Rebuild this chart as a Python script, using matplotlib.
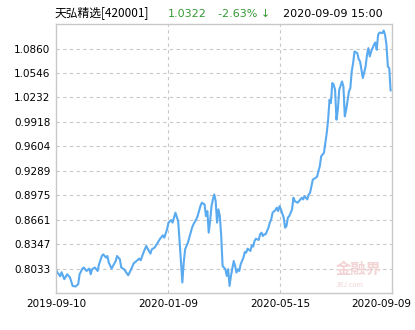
import matplotlib
matplotlib.use("Agg")
import matplotlib.pyplot as plt
from matplotlib.transforms import ScaledTranslation

plt.rcParams['font.family'] = ['Noto Sans CJK SC', 'DejaVu Sans']

# trading-day index and net value
days = [0, 1, 3, 4, 6, 8, 10, 12, 14, 16, 17, 19, 20, 22, 24, 25, 26, 28, 30, 31,
        33, 34, 36, 37, 38, 40, 41, 43, 44, 46, 47, 49, 52, 53, 55, 56, 58, 60, 61, 63,
        65, 66, 68, 69, 71, 73, 74, 75, 77, 78, 79, 80, 81, 83, 84, 85, 86, 87, 88, 89,
        90, 91, 92, 93, 95, 97, 98, 99, 101, 102, 103, 104, 105, 107, 108, 109, 110, 111, 112, 113,
        114, 115, 116, 117, 118, 119, 120, 122, 123, 124, 125, 126, 128, 129, 130, 131, 132, 133, 135, 136,
        137, 138, 140, 141, 142, 143, 144, 146, 147, 148, 149, 150, 151, 153, 154, 155, 156, 158, 159, 160,
        161, 162, 164, 165, 166, 167, 168, 170, 171, 172, 174, 175, 177, 178, 179, 181, 182, 183, 184, 185,
        187, 188, 189, 190, 191, 193, 194, 195, 196, 197, 198, 199, 200, 201, 202, 203, 204, 206, 207, 208,
        209, 211, 212, 213, 214, 215, 217, 218, 219, 220, 221, 223, 224, 225, 226, 227, 229, 230, 231, 232,
        233, 235, 236, 237, 238, 239, 240, 241]
nav = [0.8024, 0.7982, 0.7934, 0.7986, 0.7896, 0.7960, 0.7922, 0.7810, 0.7802, 0.7832,
       0.7960, 0.8033, 0.8046, 0.8002, 0.8033, 0.7960, 0.8024, 0.8046, 0.8002, 0.8088,
       0.8194, 0.8216, 0.8174, 0.8194, 0.8110, 0.8033, 0.8066, 0.8130, 0.8194, 0.8152,
       0.8046, 0.8024, 0.7947, 0.7982, 0.8059, 0.8101, 0.8130, 0.8161, 0.8139, 0.8238,
       0.8323, 0.8289, 0.8225, 0.8280, 0.8302, 0.8357, 0.8387, 0.8417, 0.8460, 0.8430,
       0.8485, 0.8537, 0.8623, 0.8656, 0.8623, 0.8687, 0.8751, 0.8699, 0.8643, 0.8387,
       0.8110, 0.7854, 0.8110, 0.8280, 0.8366, 0.8494, 0.8558, 0.8601, 0.8665, 0.8707,
       0.8771, 0.8835, 0.8879, 0.8857, 0.8707, 0.8771, 0.8494, 0.8643, 0.8835, 0.8921,
       0.8985, 0.8899, 0.8623, 0.8793, 0.8707, 0.8451, 0.8066, 0.8024, 0.7938, 0.8024,
       0.7810, 0.7938, 0.8130, 0.8066, 0.7982, 0.8024, 0.8002, 0.8088, 0.8174, 0.8246,
       0.8238, 0.8289, 0.8259, 0.8332, 0.8315, 0.8387, 0.8417, 0.8400, 0.8473, 0.8494,
       0.8451, 0.8473, 0.8473, 0.8558, 0.8623, 0.8665, 0.8751, 0.8784, 0.8815, 0.8771,
       0.8835, 0.8793, 0.8687, 0.8558, 0.8579, 0.8687, 0.8707, 0.8793, 0.8943, 0.8899,
       0.8879, 0.8899, 0.8943, 0.8921, 0.8963, 0.8921, 0.8985, 0.9007, 0.9092, 0.9177,
       0.9199, 0.9212, 0.9284, 0.9348, 0.9476, 0.9520, 0.9648, 0.9776, 0.9946, 1.0203,
       1.0160, 1.0417, 1.0395, 1.0331, 0.9946, 1.0075, 1.0331, 1.0437, 1.0373, 0.9989,
       1.0075, 1.0309, 1.0353, 1.0565, 1.0673, 1.0822, 1.0801, 1.0724, 1.0694, 1.0587,
       1.0481, 1.0630, 1.0779, 1.0865, 1.0758, 1.0822, 1.0908, 1.0937, 1.0844, 1.1036,
       1.1065, 1.1058, 1.1091, 1.1036, 1.0908, 1.0630, 1.0609, 1.0322]

yticks = [0.8033, 0.8347, 0.8661, 0.8975, 0.9289, 0.9604, 0.9918, 1.0232, 1.0546, 1.0860]
xlabels = ['2019-09-10', '2020-01-09', '2020-05-15', '2020-09-09']
n_days = 242

fig = plt.figure(figsize=(4.15, 3.3), dpi=100)
ax = fig.add_axes([56 / 415, 37 / 330, 336 / 415, 269 / 330])

ax.plot(days, nav, color='#5aaaf0', lw=1.5, solid_joinstyle='round')

ax.set_xlim(0, n_days)
ax.set_ylim(0.7719, 1.1175)
ax.set_yticks(yticks)
ax.set_yticklabels(['%.4f' % v for v in yticks], family='DejaVu Sans', fontsize=7.5)
xt = [i * n_days / 3 for i in range(4)]
ax.set_xticks(xt)
ax.set_xticklabels(xlabels, family='DejaVu Sans', fontsize=7.5)
ax.tick_params(length=0, pad=4)
# last date label sits a bit to the left so it stays inside the image
last = ax.get_xticklabels()[-1]
last.set_transform(last.get_transform() + ScaledTranslation(-11 / 100, 0, fig.dpi_scale_trans))

for y in yticks:
    ax.axhline(y, color='#c8c8c8', lw=0.8, ls=(0, (3, 3)), zorder=0)
for x in xt[1:3]:
    ax.axvline(x, color='#c8c8c8', lw=0.8, ls=(0, (3, 3)), zorder=0)

for s in ax.spines.values():
    s.set_color('#c8c8c8')
    s.set_linewidth(1)

# watermark
ax.text(0.9, 0.088, '金融界', transform=ax.transAxes, ha='center', va='center',
        fontsize=11, color='#f2d4d4', fontweight='bold', zorder=0)
ax.text(0.875, 0.028, 'JRJ.com', transform=ax.transAxes, ha='center', va='center',
        fontsize=5, color='#f2d4d4', style='italic', zorder=0)

# header line
fig.text(55 / 415, 1 - 14 / 330, '天弘精选[420001]', fontsize=8.5, va='center', ha='left')
fig.text(168 / 415, 1 - 14 / 330, '1.0322', fontsize=8, va='center', ha='left',
         color='#339933', family='DejaVu Sans')
fig.text(218 / 415, 1 - 14 / 330, '-2.63% ↓', fontsize=8, va='center', ha='left',
         color='#339933', family='DejaVu Sans')
fig.text(283 / 415, 1 - 14 / 330, '2020-09-09 15:00', fontsize=8, va='center', ha='left',
         family='DejaVu Sans')

fig.savefig('out.png', dpi=100)
